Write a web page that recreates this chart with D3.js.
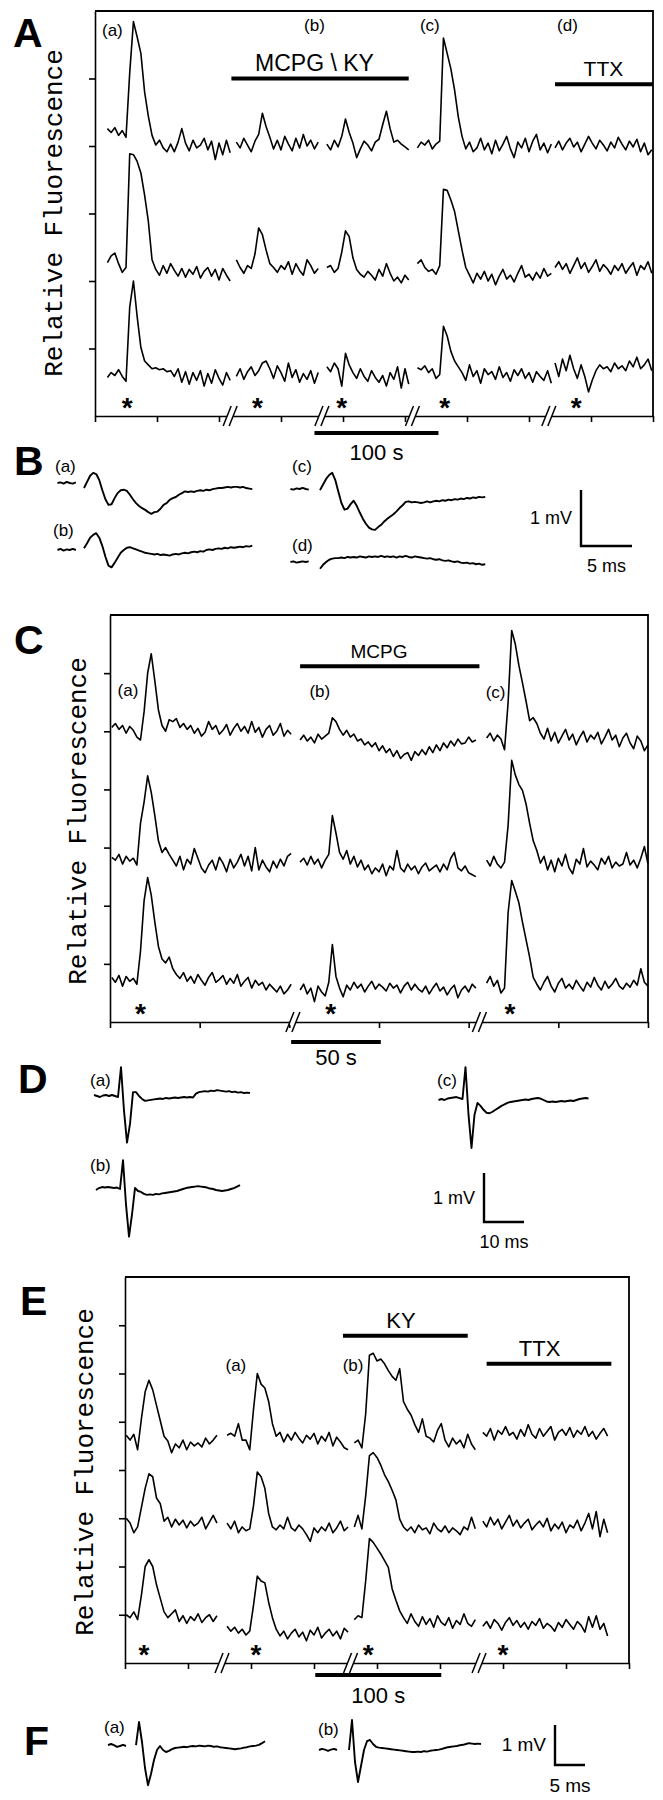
<!DOCTYPE html>
<html lang="en">
<head>
<meta charset="UTF-8">
<title>Relative fluorescence and field potentials</title>
<script src="https://d3js.org/d3.v7.min.js"></script>
<style>
  body { margin: 0; background: #fff; }
  .ax path, .ax line { stroke: #000; stroke-width: 1.6; }
  .trace { fill: none; stroke: #000; stroke-width: 1.6; stroke-linejoin: round; }
  .fp { fill: none; stroke: #000; stroke-width: 1.9; stroke-linejoin: round; }
  text { font-family: "Liberation Sans", Arial, sans-serif; fill: #000; }
  .ylab { font-family: "Liberation Mono", "Courier New", monospace; font-size: 26px; }
  .letter { font-size: 41px; font-weight: bold; }
  .tag { font-size: 17px; }
</style>
</head>
<body>
<svg id="fig" width="663" height="1800"></svg>
<script>
// ---------- Panel A : three optical traces, five time segments ----------
const xTicksA = [0, 50, 100, 150, 200, 250, 300, 350, 400, 450];
const yTicksA = [70, 140, 210, 280, 350];
const segStartA = [10, 114, 187, 260, 371];   // s
const stepA = 3;                               // s
const breaksA = [109, 183, 256, 366];
const offsetA = [280, 150, 43];
const rowA1 = [
  [18,14,19,11,16,9,76,129,113,96,56,31,11,1,6,-2,-6,2,-6,4,18,3,-5,6,-2,1,8,-4,5,-14,3,-9,6,-7],
  [4,-2,8,1,-6,5,12,34,20,9,-3,6,-4,10,2,-5,8,-2,12,0,6,-3,4],
  [2,-4,6,-1,10,28,14,3,-12,-3,5,1,-5,4,7,22,36,18,4,6,2,-1,-4],
  [-2,4,1,6,-3,2,5,112,96,80,58,30,10,-3,4,-6,-2,8,-4,3,-8,6,-5,2,10,-3,-12,4,-2,8,-6,5,12,-4,3,-7,2],
  [-2,5,-4,3,8,-1,4,-6,2,10,3,-3,6,1,-5,4,-2,9,2,-4,5,-1,7,-6,3,-9,-4]
];
const rowA2 = [
  [9,16,19,8,-1,4,122,121,114,102,79,52,12,2,-4,6,-2,8,1,-5,3,-6,2,-3,5,-7,0,4,-5,2,-9,3,-4,-10],
  [12,4,-2,6,3,18,45,38,22,8,4,-1,6,2,10,-3,8,1,-4,12,6,-2,3],
  [4,6,-1,3,20,42,36,14,2,-3,-6,0,-4,-9,2,-5,8,-2,-10,-6,-12,-4,-9],
  [8,12,4,0,2,-3,6,85,84,74,62,42,22,4,-4,-12,-2,-8,0,-10,-3,-14,-5,2,-8,-4,-11,-2,6,-6,-3,-9,-1,-7,3,-5,-2],
  [4,10,2,8,-2,6,14,3,9,-1,5,12,0,7,3,-3,6,1,8,-2,4,9,-4,6,2,10,-2]
];
const rowA3 = [
  [-3,2,-1,5,-2,-7,70,97,60,28,14,10,6,7,5,6,3,4,-2,6,-8,3,-10,2,-6,4,-12,1,-9,5,-4,-11,2,-6],
  [-2,6,-5,3,8,-1,4,12,14,6,-4,9,2,-7,12,-3,5,-8,1,-5,4,-9,2],
  [8,3,12,6,-12,22,10,2,-4,6,-2,-7,4,-3,-8,-1,-12,2,-5,8,-14,6,-10],
  [7,5,9,2,6,-4,0,50,40,24,14,8,2,-6,10,-2,4,-9,6,0,3,-5,8,-3,2,-7,5,-1,6,-4,2,-8,3,-2,-6,4,-9],
  [12,-2,16,4,20,6,-4,10,-2,-18,-6,4,10,6,8,3,12,6,9,4,14,8,18,6,10,16,4]
];
const starA = [26, 131, 199, 282, 388];
const tagA = ['(a)', '(b)', '(c)', '(d)'];
const tagTimeA = [14, 177, 270, 381];
const tagLevelA = [394, 399, 399, 399];
const drugA = ['MCPG \\ KY', 'TTX'];
const drugOnA = [110, 371];
const drugOffA = [253, 450];
const drugLevelA = [350, 344];
const drugTextA = [177, 410];

// ---------- Panel C ----------
const xTicksC = [0, 50, 100, 150, 200, 250, 300];
const yTicksC = [60, 120, 180, 240, 300, 360];
const segStartC = [1, 106, 210];
const stepC = 2;
const breaksC = [102, 206];
const offsetC = [300, 165, 43];
const rowC1 = [
  [4,8,2,6,-2,5,1,-6,-9,20,60,80,52,22,6,0,12,10,13,4,8,2,6,-2,3,-5,-1,10,2,6,-3,1,7,-4,3,8,0,5,-2,10,-1,4,-6,2,6,-4,0,8,-5,1,-3],
  [-9,-4,-10,-6,-12,-3,-8,-5,-2,14,10,2,-4,1,-6,-3,-10,-8,-14,-11,-16,-12,-20,-15,-22,-18,-26,-20,-28,-24,-22,-30,-21,-25,-19,-24,-16,-22,-14,-20,-12,-17,-10,-15,-8,-13,-12,-6,-11,-9],
  [-7,-2,-10,-4,-8,-19,30,104,90,68,50,31,11,14,8,-2,-8,3,-10,-1,-12,-5,2,-9,-3,-14,-6,0,-11,-4,-8,-1,-13,-6,2,-9,-4,-16,-7,-2,-12,-18,-5,-10,-20,-14]
];
const rowC2 = [
  [5,2,8,-2,6,1,4,-3,40,62,89,72,48,22,10,15,8,2,-4,6,-8,3,-2,14,4,-6,-11,-3,2,-8,5,-1,-10,3,-6,0,8,-4,6,-9,15,-8,2,-5,-10,1,-6,3,-4,6,9],
  [0,4,-3,6,-2,3,-6,2,8,48,30,10,3,12,-2,6,-5,2,-8,-3,-12,-6,-10,-2,-14,-4,-8,12,-6,-10,-2,-8,-4,-12,-5,-1,-9,-6,-3,-10,-2,-8,4,10,-6,-9,-4,-11,-13,-15],
  [2,-4,6,-2,-6,0,38,105,90,80,74,60,40,22,12,-1,6,-8,2,-10,4,-4,8,-6,-12,3,-2,14,-5,1,-3,-8,4,-2,6,-6,0,-4,-2,10,-3,2,-6,4,16,-2]
];
const rowC3 = [
  [3,-2,5,-6,4,-1,2,-4,30,82,106,88,60,35,22,18,24,12,6,2,8,-1,4,-3,6,0,-5,3,8,-2,1,5,-4,2,-3,6,-6,-1,3,-8,0,-5,-2,-10,-4,-8,-12,-6,-14,-10,-4],
  [-10,-4,-14,-8,-22,-6,-12,-16,-2,37,4,-8,-17,-5,-10,-2,-8,-4,-12,-6,-1,-9,-4,-7,-11,-3,-8,-5,-13,-6,-2,-10,-4,-9,-12,-6,-14,-8,-3,-11,-7,-15,-9,-5,-18,-10,-6,-12,-4,-8],
  [-3,4,-6,0,-13,-8,70,103,92,80,60,42,24,3,-4,-10,-2,4,-6,-12,-3,2,-8,-4,-9,0,-6,-11,-2,-7,3,-5,-10,-1,-8,-4,2,-6,-9,-3,-7,0,-5,12,-2,-6]
];
const starC = [17, 123, 223];
const tagC = ['(a)', '(b)', '(c)'];
const tagTimeC = [10, 117, 215];
const tagLevelC = [336, 335, 334];
const drugC = ['MCPG'];
const drugOnC = [106];
const drugOffC = [206];
const drugLevelC = [367];
const drugTextC = [150];

// ---------- Panel E ----------
const xTicksE = [0, 50, 100, 150, 200, 250, 300, 350, 400];
const yTicksE = [50, 100, 150, 200, 250, 300, 350];
const segStartE = [1, 81, 182, 284];
const stepE = 3;
const breaksE = [77, 179, 281];
const offsetE = [233, 143, 45];
const rowE1 = [
  [3,-2,4,-12,20,48,60,50,34,18,2,-3,-15,-6,-10,-2,-12,-4,-8,-5,-9,0,-6,-2,3],
  [3,5,2,15,-2,-2,-12,30,67,56,52,38,15,2,6,-4,4,-2,6,0,-5,3,-1,5,-6,2,-3,6,-8,1,-4,-10,-12],
  [-5,-2,-10,25,86,88,80,82,77,70,64,60,72,38,30,24,14,6,20,2,0,-4,8,15,-2,-9,0,-6,-2,-10,4,-6,-12],
  [6,2,10,-2,8,4,12,3,6,-1,9,2,14,4,0,10,2,7,12,-2,6,9,3,11,1,8,4,12,2,7,-1,5,10,2]
];
const rowE2 = [
  [7,2,-8,-2,18,38,53,50,28,22,4,8,-2,6,0,5,-3,4,-1,2,8,-4,3,10,2],
  [2,-4,4,-8,-2,-6,-4,20,55,50,38,12,-2,-5,0,-4,8,-3,-6,0,-4,-10,-17,-3,-8,-2,-6,2,-8,-3,4,-6,-2],
  [-2,10,-4,30,72,75,70,62,52,45,36,26,6,-2,-6,-2,-8,0,-5,-3,-9,2,-4,-7,-1,-8,-3,-6,-10,-2,-5,8,-4],
  [4,-2,8,0,6,-4,3,10,-1,5,-3,2,6,-5,0,4,-2,7,-6,1,-4,3,-8,0,-3,5,-6,2,12,-4,14,-12,6,-8]
];
const rowE3 = [
  [5,2,8,0,25,55,62,55,36,22,8,2,6,10,-2,4,-4,3,-1,6,-3,2,5,-2,4],
  [-7,-12,-8,-14,-10,-16,-12,15,45,40,38,18,2,-10,-17,-12,-20,-14,-10,-18,-13,-22,-11,-16,-8,-19,-14,-10,-17,-12,-20,-9,-13],
  [0,4,2,40,84,80,74,68,61,54,32,20,9,2,-4,6,-2,-7,3,-5,1,-8,4,-3,-6,2,-9,-1,-5,6,-4,-7,0],
  [-7,-2,-9,0,-4,-11,-3,2,-6,-1,-8,-3,-10,-2,-6,1,-9,-4,-7,-12,-3,-8,0,-5,-10,-2,-6,-13,3,-8,4,-10,-4,-17]
];
const starE = [15, 104, 193, 300];
const tagE = ['(a)', '(b)'];
const tagTimeE = [88, 181];
const tagLevelE = [303, 303];
const drugE = ['KY', 'TTX'];
const drugOnE = [173, 287];
const drugOffE = [272, 386];
const drugLevelE = [339, 310];
const drugTextE = [219, 329];

// ---------- Panel B : field potentials (mV), 0.3 ms samples ----------
const stepB = 0.3;
const preB_a = [0, 0.01, -0.01, 0.02, 0, -0.01, 0.01];
const mainB_a = [-0.09,0.02,0.13,0.18,0.16,0.05,-0.13,-0.29,-0.39,-0.38,-0.27,-0.18,-0.13,-0.12,-0.14,-0.21,-0.29,-0.36,-0.41,-0.45,-0.48,-0.52,-0.55,-0.52,-0.51,-0.46,-0.39,-0.36,-0.3,-0.27,-0.25,-0.21,-0.18,-0.15,-0.16,-0.15,-0.16,-0.14,-0.13,-0.14,-0.12,-0.13,-0.11,-0.1,-0.09,-0.09,-0.08,-0.07,-0.08,-0.07,-0.07,-0.08,-0.07,-0.09,-0.1,-0.11];
const preB_b = [0, 0.02, -0.01, 0.01, 0, 0.02, 0];
const mainB_b = [0.03,0.12,0.22,0.27,0.3,0.22,0.07,-0.12,-0.28,-0.31,-0.23,-0.14,-0.05,0,0.04,0.05,0.03,0.01,-0.01,-0.03,-0.05,-0.06,-0.07,-0.08,-0.07,-0.09,-0.08,-0.09,-0.1,-0.08,-0.07,-0.08,-0.06,-0.05,-0.06,-0.04,-0.03,-0.04,-0.02,-0.03,0,0.01,0,0.02,0.03,0.02,0.04,0.03,0.05,0.04,0.05,0.06,0.05,0.07,0.06,0.08];
const preB_c = [0, -0.01, 0.01, 0, 0.02, 0, -0.01];
const mainB_c = [-0.02,0.08,0.18,0.25,0.29,0.16,-0.05,-0.25,-0.37,-0.35,-0.27,-0.21,-0.3,-0.42,-0.53,-0.62,-0.69,-0.72,-0.73,-0.68,-0.64,-0.58,-0.53,-0.49,-0.45,-0.4,-0.34,-0.29,-0.23,-0.22,-0.24,-0.23,-0.24,-0.25,-0.24,-0.22,-0.24,-0.22,-0.21,-0.22,-0.2,-0.21,-0.19,-0.2,-0.18,-0.19,-0.17,-0.18,-0.16,-0.17,-0.15,-0.16,-0.14,-0.15,-0.14];
const preB_d = [0, 0.01, -0.01, 0, 0.01, 0, 0.01];
const mainB_d = [-0.12,-0.05,0,0.04,0.06,0.07,0.07,0.08,0.07,0.09,0.08,0.09,0.08,0.1,0.09,0.08,0.1,0.09,0.1,0.09,0.11,0.09,0.1,0.09,0.1,0.08,0.1,0.09,0.11,0.09,0.08,0.1,0.09,0.08,0.07,0.06,0.07,0.05,0.04,0.05,0.03,0.02,0.03,0.01,0,0.01,-0.01,-0.02,-0.01,-0.03,-0.02,-0.04,-0.03,-0.05,-0.04];

// ---------- Panel D : 0.75 ms samples ----------
const stepD = 0.75;
const mainD_a = [0.02,0,-0.02,0.01,0.02,0,0.02,0,-0.02,0.59,-0.3,-0.95,-0.57,0.08,0.08,0,-0.06,-0.1,-0.09,-0.08,-0.07,-0.06,-0.05,-0.06,-0.04,-0.05,-0.04,-0.03,-0.04,-0.03,-0.02,-0.03,-0.02,-0.03,0.05,0.08,0.09,0.1,0.09,0.11,0.1,0.12,0.11,0.1,0.09,0.1,0.08,0.09,0.07,0.08,0.06,0.07,0.06];
const mainD_b = [0,0.04,0.06,0.05,0.06,0.05,0.04,0.05,0.02,0.61,-0.3,-0.95,-0.5,0.04,-0.02,-0.04,-0.08,-0.1,-0.09,-0.1,-0.08,-0.09,-0.07,-0.06,-0.05,-0.04,-0.03,-0.02,0,0.02,0.04,0.05,0.06,0.07,0.08,0.07,0.06,0.05,0.03,0.02,0,-0.01,-0.02,-0.01,0,0.02,0.04,0.07,0.1];
const mainD_c = [0,0.02,0,0.03,0.04,0.05,0.06,0.04,0.02,0.67,-0.3,-0.98,-0.3,-0.06,-0.12,-0.2,-0.26,-0.27,-0.24,-0.2,-0.16,-0.12,-0.09,-0.06,-0.04,-0.03,-0.02,-0.01,0,0.01,0,0.02,0.03,0.04,0.03,0,-0.03,-0.04,-0.03,-0.04,-0.03,-0.02,-0.03,-0.02,-0.01,-0.02,0,0.02,0.03,0.04,0.03];

// ---------- Panel F : 0.5 ms samples ----------
const stepF = 0.5;
const preF_a = [0.02, 0.05, 0.02, -0.02, 0, 0.03, 0];
const mainF_a = [0.02,0.6,0.1,-0.55,-0.98,-0.7,-0.35,-0.1,0,-0.1,-0.15,-0.12,-0.08,-0.05,-0.04,-0.03,-0.02,-0.03,-0.01,0,-0.01,0.01,0,-0.01,0.01,0,-0.02,-0.01,-0.03,-0.04,-0.05,-0.06,-0.07,-0.08,-0.07,-0.06,-0.04,-0.03,-0.01,0,0.01,0.03,0.07,0.12];
const preF_b = [0, 0.03, 0.01, -0.02, 0.01, 0.03, 0];
const mainF_b = [0,0.75,-0.3,-0.8,-0.4,0,0.22,0.25,0.15,0.08,0.06,0.05,0.04,0.03,0.02,0.01,0,-0.01,-0.02,-0.03,-0.04,-0.05,-0.05,-0.04,-0.05,-0.03,-0.04,-0.02,-0.01,0,0.01,0.03,0.05,0.07,0.08,0.09,0.1,0.12,0.13,0.15,0.17,0.16,0.15,0.16,0.15];

// ======================================================================
const svg = d3.select('#fig');

function letter(t, x, y) {
  svg.append('text').attr('class', 'letter').attr('x', x).attr('y', y).text(t);
}

function fluoPanel(o) {
  const g = svg.append('g');
  const x = d3.scaleLinear().domain(o.xDomain).range([o.left, o.right]);
  const y = d3.scaleLinear().domain(o.yDomain).range([o.bottom, o.top]);

  g.append('path')
    .attr('d', `M${o.left},${o.top}H${o.right}V${o.bottom}`)
    .attr('fill', 'none').attr('stroke', '#000').attr('stroke-width', 1.8);

  g.append('g').attr('class', 'ax')
    .attr('transform', `translate(${o.left},0)`)
    .call(d3.axisLeft(y).tickValues(o.yTicks).tickSize(6).tickSizeOuter(0).tickFormat(''));

  g.append('g').attr('class', 'ax')
    .attr('transform', `translate(0,${o.bottom})`)
    .call(d3.axisBottom(x).tickValues(o.xTicks).tickSize(6).tickSizeOuter(0).tickFormat(''));

  // axis breaks "//"
  o.breaks.forEach(b => {
    const bx = x(b), by = o.bottom;
    g.append('rect').attr('x', bx - 3).attr('y', by - 3).attr('width', 6).attr('height', 6).attr('fill', '#fff');
    [-3, 3].forEach(dx => {
      g.append('line')
        .attr('x1', bx + dx - 4).attr('y1', by + 10)
        .attr('x2', bx + dx + 4).attr('y2', by - 10)
        .attr('stroke', '#000').attr('stroke-width', 1.5);
    });
  });

  // traces
  const line = d3.line().x(d => x(d[0])).y(d => y(d[1]));
  o.rows.forEach((row, r) => {
    row.forEach((seg, s) => {
      const pts = seg.map((v, i) => [o.segStart[s] + i * o.step, o.offsets[r] + v]);
      g.append('path').attr('class', 'trace').attr('d', line(pts));
    });
  });

  // stimulus stars
  g.selectAll('.star').data(o.stars).enter().append('text')
    .attr('x', d => x(d)).attr('y', o.bottom + 1)
    .attr('text-anchor', 'middle')
    .attr('font-size', 28).attr('font-weight', 'bold')
    .text('*');

  // tags (a) (b) ...
  o.tags.forEach((t, i) => {
    g.append('text').attr('class', 'tag')
      .attr('x', x(o.tagTime[i])).attr('y', y(o.tagLevel[i]))
      .attr('text-anchor', 'middle').text(t);
  });

  // drug application bars
  o.drugs.forEach((d, i) => {
    g.append('line')
      .attr('x1', x(o.drugOn[i])).attr('x2', x(o.drugOff[i]))
      .attr('y1', y(o.drugLevel[i])).attr('y2', y(o.drugLevel[i]))
      .attr('stroke', '#000').attr('stroke-width', 4);
    g.append('text')
      .attr('x', x(o.drugText[i])).attr('y', y(o.drugLevel[i]) - 8)
      .attr('text-anchor', 'middle').attr('font-size', o.drugFont[i])
      .text(d);
  });

  // time scale bar
  g.append('line')
    .attr('x1', x(o.barStart)).attr('x2', x(o.barStart + o.barLen))
    .attr('y1', o.bottom + o.barDy).attr('y2', o.bottom + o.barDy)
    .attr('stroke', '#000').attr('stroke-width', 4);
  g.append('text')
    .attr('x', x(o.barStart + o.barLen / 2)).attr('y', o.bottom + o.textDy)
    .attr('text-anchor', 'middle').attr('font-size', 22)
    .text(o.barLabel);

  // y label
  g.append('text').attr('class', 'ylab')
    .attr('transform', `translate(${o.labX},${o.labY}) rotate(-90)`)
    .attr('text-anchor', 'middle')
    .text('Relative Fluorescence');
}

function fpTrace(o, tr) {
  const x = d3.scaleLinear().domain([0, 1]).range([tr.x0, tr.x0 + o.msPx]);
  const y = d3.scaleLinear().domain([0, 1]).range([tr.base, tr.base - o.mvPx]);
  const line = d3.line().x(d => x(d[0])).y(d => y(d[1]));
  if (tr.pre) {
    const pts = tr.pre.map((v, i) => [tr.preT0 + i * o.step, v]);
    svg.append('path').attr('class', 'fp').attr('d', line(pts));
  }
  const pts = tr.main.map((v, i) => [i * o.step, v]);
  svg.append('path').attr('class', 'fp').attr('d', line(pts));
  svg.append('text').attr('class', 'tag')
    .attr('x', tr.tagX).attr('y', tr.tagY).text(tr.tag);
}

function fpScale(o) {
  const x = d3.scaleLinear().domain([0, 1]).range([o.barX, o.barX + o.msPx]);
  const y = d3.scaleLinear().domain([0, 1]).range([o.barY, o.barY - o.mvPx]);
  svg.append('path')
    .attr('d', `M${x(0)},${y(1)}V${y(0)}H${x(o.barMs)}`)
    .attr('fill', 'none').attr('stroke', '#000').attr('stroke-width', 2.4);
  svg.append('text').attr('x', x(0) - 9).attr('y', y(0.5) + 6)
    .attr('text-anchor', 'end').attr('font-size', o.font).text('1 mV');
  svg.append('text').attr('x', x(o.barMs / 2)).attr('y', y(0) + o.font + 8)
    .attr('text-anchor', 'middle').attr('font-size', o.font).text(o.barMs + ' ms');
}

// ---------------- A ----------------
letter('A', 13, 47);
fluoPanel({
  left: 95, right: 653, top: 11, bottom: 416,
  xDomain: [0, 450], yDomain: [0, 420],
  xTicks: xTicksA, yTicks: yTicksA, breaks: breaksA,
  segStart: segStartA, step: stepA, offsets: offsetA,
  rows: [rowA1, rowA2, rowA3],
  stars: starA, tags: tagA, tagTime: tagTimeA, tagLevel: tagLevelA,
  drugs: drugA, drugOn: drugOnA, drugOff: drugOffA, drugLevel: drugLevelA,
  drugText: drugTextA, drugFont: [23, 21],
  barStart: 177, barLen: 100, barDy: 17, textDy: 44, barLabel: '100 s',
  labX: 62, labY: 213
});

// ---------------- B ----------------
letter('B', 14, 475);
const optB = { step: stepB, msPx: 10.2, mvPx: 56 };
fpTrace(optB, { pre: preB_a, preT0: -2.6, main: mainB_a, x0: 84, base: 483, tag: '(a)', tagX: 55, tagY: 472 });
fpTrace(optB, { pre: preB_b, preT0: -2.6, main: mainB_b, x0: 84, base: 550, tag: '(b)', tagX: 53, tagY: 536 });
fpTrace(optB, { pre: preB_c, preT0: -2.9, main: mainB_c, x0: 320, base: 489, tag: '(c)', tagX: 292, tagY: 472 });
fpTrace(optB, { pre: preB_d, preT0: -2.9, main: mainB_d, x0: 320, base: 562, tag: '(d)', tagX: 292, tagY: 551 });
fpScale({ barX: 581, barY: 546, msPx: 10.2, mvPx: 56, barMs: 5, font: 18 });

// ---------------- C ----------------
letter('C', 14, 654);
fluoPanel({
  left: 110, right: 648, top: 615, bottom: 1022,
  xDomain: [0, 300], yDomain: [0, 420],
  xTicks: xTicksC, yTicks: yTicksC, breaks: breaksC,
  segStart: segStartC, step: stepC, offsets: offsetC,
  rows: [rowC1, rowC2, rowC3],
  stars: starC, tags: tagC, tagTime: tagTimeC, tagLevel: tagLevelC,
  drugs: drugC, drugOn: drugOnC, drugOff: drugOffC, drugLevel: drugLevelC,
  drugText: drugTextC, drugFont: [19],
  barStart: 101, barLen: 50, barDy: 20, textDy: 43, barLabel: '50 s',
  labX: 86, labY: 821
});

// ---------------- D ----------------
letter('D', 18, 1093);
const optD = { step: stepD, msPx: 4, mvPx: 49 };
fpTrace(optD, { main: mainD_a, x0: 94, base: 1096, tag: '(a)', tagX: 90, tagY: 1086 });
fpTrace(optD, { main: mainD_b, x0: 96, base: 1190, tag: '(b)', tagX: 90, tagY: 1171 });
fpTrace(optD, { main: mainD_c, x0: 438.5, base: 1100, tag: '(c)', tagX: 437, tagY: 1086 });
fpScale({ barX: 484, barY: 1222, msPx: 4, mvPx: 49, barMs: 10, font: 18 });

// ---------------- E ----------------
letter('E', 20, 1315);
fluoPanel({
  left: 125, right: 629, top: 1277, bottom: 1663,
  xDomain: [0, 400], yDomain: [0, 400],
  xTicks: xTicksE, yTicks: yTicksE, breaks: breaksE,
  segStart: segStartE, step: stepE, offsets: offsetE,
  rows: [rowE1, rowE2, rowE3],
  stars: starE, tags: tagE, tagTime: tagTimeE, tagLevel: tagLevelE,
  drugs: drugE, drugOn: drugOnE, drugOff: drugOffE, drugLevel: drugLevelE,
  drugText: drugTextE, drugFont: [22, 22],
  barStart: 151, barLen: 100, barDy: 12, textDy: 40, barLabel: '100 s',
  labX: 93, labY: 1472
});

// ---------------- F ----------------
letter('F', 24, 1755);
const optF = { step: stepF, msPx: 6, mvPx: 40 };
fpTrace(optF, { pre: preF_a, preT0: -4.67, main: mainF_a, x0: 136, base: 1746, tag: '(a)', tagX: 104, tagY: 1733 });
fpTrace(optF, { pre: preF_b, preT0: -5, main: mainF_b, x0: 349, base: 1750, tag: '(b)', tagX: 318, tagY: 1735 });
fpScale({ barX: 555, barY: 1765, msPx: 6, mvPx: 40, barMs: 5, font: 19 });
</script>
</body>
</html>
